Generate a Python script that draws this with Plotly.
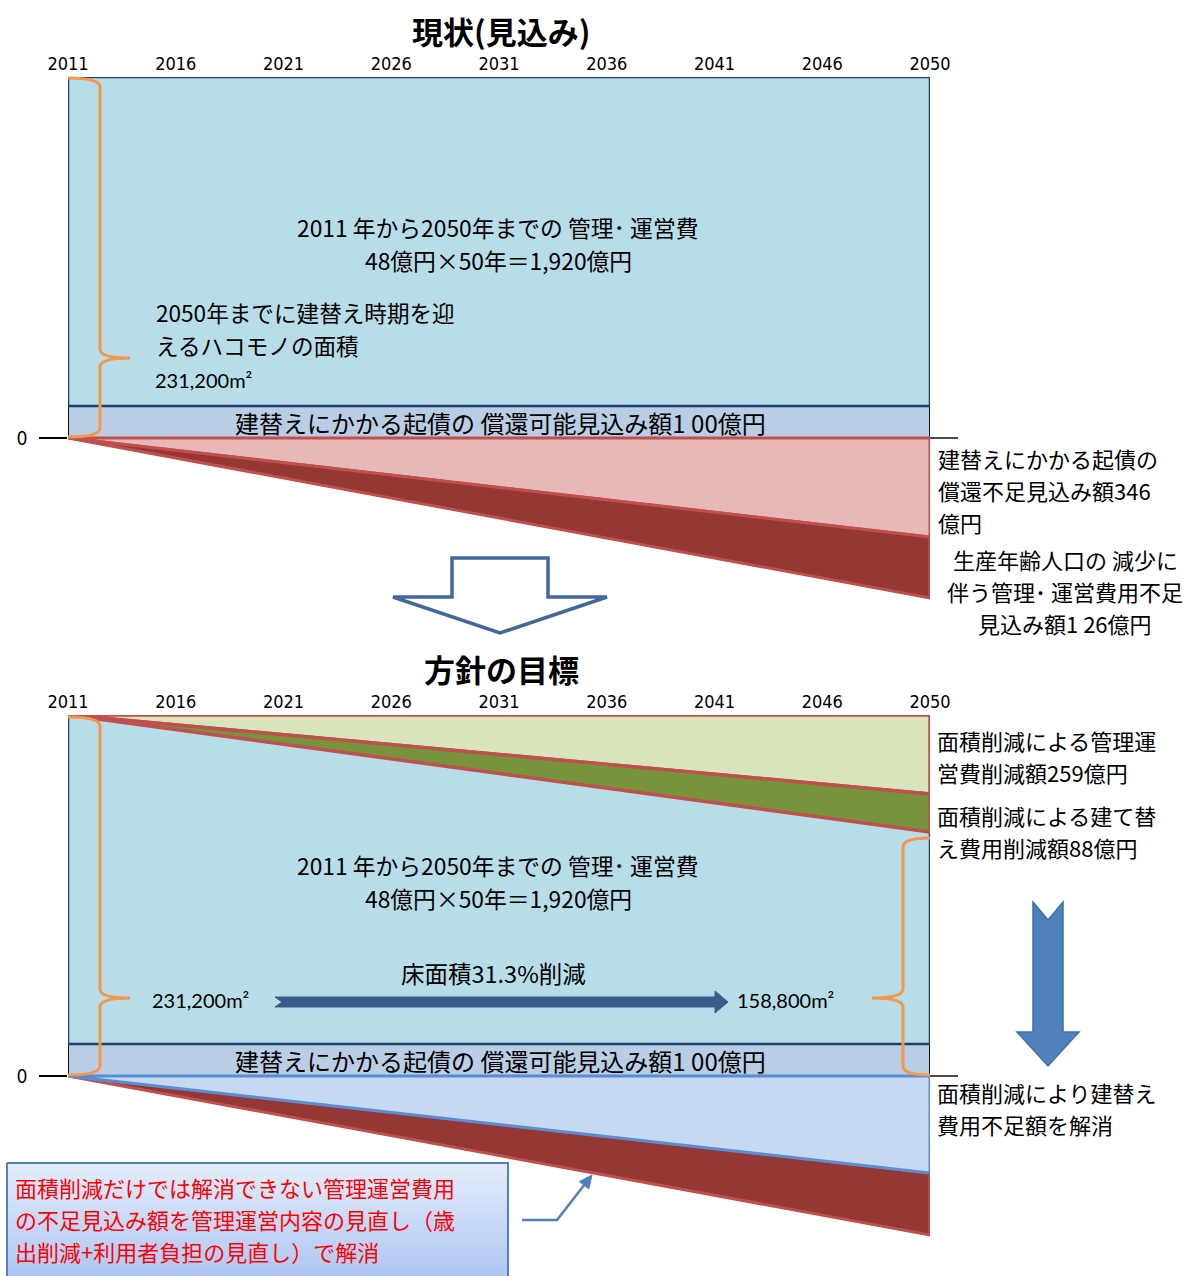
import plotly.graph_objects as go

W, H = 1197, 1276
JP = "Noto Sans CJK JP"
NARROW = "Liberation Sans Narrow, DejaVu Sans Condensed, Arial Narrow, sans-serif"

# ---------------- data ----------------
period = [2011, 2051]  # start of 2011 .. end of 2050
tick_years = [2011, 2016, 2021, 2026, 2031, 2036, 2041, 2046, 2051]
tick_labels = ["2011", "2016", "2021", "2026", "2031", "2036", "2041", "2046", "2050"]

# schematic levels (diagram units, as drawn)
ops_level = 361   # 管理・運営費 1,920億円 (band top)
bond_level = 32   # 起債の償還可能見込み額 100億円
# 現状(見込み) at 2050
cur_bond_short = -99    # 償還不足見込み額 346億円
cur_ops_short = -160    # 管理・運営費用不足見込み額 126億円
# 方針の目標 at 2050
tgt_ops_cut = 282       # 面積削減による管理運営費削減額 259億円 (lower edge)
tgt_rebuild_cut = 244   # 面積削減による建て替え費用削減額 88億円 (lower edge)
tgt_bond_ok = -97       # 面積削減により建替え費用不足額を解消
tgt_ops_short = -159    # 管理運営費用の不足見込み額

fig = go.Figure()


def poly(xs, ys, fill, line, lw, xa, ya):
    fig.add_trace(go.Scatter(x=xs, y=ys, mode="lines", fill="toself",
                             fillcolor=fill, line=dict(color=line, width=lw),
                             xaxis=xa, yaxis=ya, hoverinfo="skip", showlegend=False))


x0, x1 = period
rect_x = [x0, x1, x1, x0, x0]
tri_x = [x0, x1, x1, x0]

for xa, ya in [("x", "y"), ("x2", "y2")]:
    poly(rect_x, [0, 0, bond_level, bond_level, 0], "#B9CDE5", "#111111", 2, xa, ya)
    poly(rect_x, [bond_level, bond_level, ops_level, ops_level, bond_level],
         "#B7DDE8", "#1F3F6E", 2.5, xa, ya)

# 現状
poly(tri_x, [0, 0, cur_bond_short, 0], "#E6B9B8", "#C0504D", 3, "x", "y")
poly(tri_x, [0, cur_bond_short, cur_ops_short, 0], "#953735", "#C0504D", 3, "x", "y")
# 方針の目標
poly(tri_x, [ops_level, ops_level, tgt_ops_cut, ops_level], "#D7E4BD", "#C0504D", 3.5, "x2", "y2")
poly(tri_x, [ops_level, tgt_ops_cut, tgt_rebuild_cut, ops_level], "#77933C", "#C0504D", 3.5, "x2", "y2")
poly(tri_x, [0, tgt_bond_ok, tgt_ops_short, 0], "#953735", "#C0504D", 3, "x2", "y2")
poly(tri_x, [0, 0, tgt_bond_ok, 0], "#C6D9F1", "#558ED5", 3, "x2", "y2")

# gradient note box (pixel overlay axis)
fig.add_trace(go.Scatter(
    x=[7, 508, 508, 7, 7], y=[1163, 1163, 1295, 1295, 1163], mode="lines",
    fill="toself",
    fillgradient=dict(type="vertical", start=1163, stop=1276,
                      colorscale=[[0, "#E4EDFB"], [1, "#AEC7F2"]]),
    line=dict(color="#4F81BD", width=2), xaxis="x3", yaxis="y3",
    hoverinfo="skip", showlegend=False))


def py2p(py):
    return 1 - py / H


ax_common = dict(range=[x0, x1], side="top", tickvals=tick_years, ticktext=tick_labels,
                 tickfont=dict(family=NARROW, size=18, color="black"),
                 showgrid=False, zeroline=False, showline=False, ticks="",
                 ticklabelstandoff=2, automargin=False, fixedrange=True)
ay_common = dict(range=[-172, 361], tickvals=[0], ticktext=["0"],
                 tickfont=dict(family=JP, size=19, color="black"),
                 ticks="outside", ticklen=28, tickwidth=1.5, tickcolor="black",
                 showgrid=False, zeroline=False, showline=False, ticklabelstandoff=8,
                 automargin=False, fixedrange=True)

fig.update_layout(
    width=W, height=H, margin=dict(l=0, r=0, t=0, b=0, autoexpand=False),
    paper_bgcolor="white", plot_bgcolor="rgba(0,0,0,0)",
    xaxis=dict(domain=[68 / W, 930 / W], anchor="y", **ax_common),
    yaxis=dict(domain=[py2p(610), py2p(77)], anchor="x", **ay_common),
    xaxis2=dict(domain=[68 / W, 930 / W], anchor="y2", **ax_common),
    yaxis2=dict(domain=[py2p(1248), py2p(715)], anchor="x2", **ay_common),
    xaxis3=dict(domain=[0, 1], range=[0, W], visible=False, anchor="y3",
                fixedrange=True, automargin=False),
    yaxis3=dict(domain=[0, 1], range=[H, 0], visible=False, anchor="x3",
                fixedrange=True, automargin=False),
)

shapes = []


def path(d, fill=None, line="#000", lw=2):
    s = dict(type="path", path=d, xref="x3", yref="y3", layer="above",
             line=dict(color=line, width=lw))
    if fill:
        s["fillcolor"] = fill
    shapes.append(s)


def brace(x_open, x_spine, x_tip, y_top, y_bot, y_mid, r=9):
    d = (f"M {x_open},{y_top} Q {x_spine},{y_top} {x_spine},{y_top + r} "
         f"L {x_spine},{y_mid - r} Q {x_spine},{y_mid} {x_tip},{y_mid} "
         f"Q {x_spine},{y_mid} {x_spine},{y_mid + r} "
         f"L {x_spine},{y_bot - r} Q {x_spine},{y_bot} {x_open},{y_bot}")
    path(d, line="#F79646", lw=3)


brace(68, 100, 130, 78, 437, 358)
brace(68, 100, 130, 717, 1075, 998)
brace(930, 903, 872, 838, 1075, 998)

# hollow down arrow between panels
path("M 452,558 L 548,558 L 548,597 L 607,597 L 500,633 L 393,597 L 452,597 Z",
     fill="white", line="#41689C", lw=3.5)
# solid blue down arrow on the right
path("M 1033,902 L 1048,920 L 1063,902 L 1063,1032 L 1079,1032 L 1048,1066 "
     "L 1017,1032 L 1033,1032 Z", fill="#4F81BD", line="#3F6FA8", lw=1.5)
# horizontal floor-area arrow
path("M 275,997 L 715,997 L 715,991 L 728,1002 L 715,1013 L 715,1007 L 275,1007 L 282,1002 Z",
     fill="#385D8A", line="#385D8A", lw=1)
# zero stubs on the right
path("M 930,438 L 958,438", line="#111111", lw=1.5)
path("M 930,1076 L 958,1076", line="#111111", lw=1.5)
# connector from note box
path("M 522,1220 L 557,1220 L 585,1184", line="#4F81BD", lw=2.5)
tx, ty = 592, 1175
ux, uy = 0.61, -0.79
bx, by = tx - 13 * ux, ty - 13 * uy
px_, py_ = 0.79, 0.61
path(f"M {tx},{ty} L {bx + 6 * px_},{by + 6 * py_} L {bx - 6 * px_},{by - 6 * py_} Z",
     fill="#4F81BD", line="#4F81BD", lw=1)

fig.update_layout(shapes=shapes)

anns = []


def ann(text, x, y, size=21, xanchor="left", color="black", family=JP):
    anns.append(dict(text=text, x=x, y=y, xref="x3", yref="y3",
                     xanchor=xanchor, yanchor="middle", showarrow=False,
                     font=dict(family=family, size=size, color=color)))


def block(lines, x, yc, size, step, xanchor="left", color="black"):
    n = len(lines)
    for i, t in enumerate(lines):
        ann(t, x, yc + (i - (n - 1) / 2) * step, size, xanchor, color)


ann("<b>現状(見込み)</b>", 501, 30, 31, "center")
ann("<b>方針の目標</b>", 501, 668, 31, "center")

for yoff in (0, 638):
    block(["2011 年から2050年までの 管理･ 運営費", "48億円×50年＝1,920億円"],
          498, 244 + yoff, 22.8, 33, "center")
    ann("建替えにかかる起債の 償還可能見込み額1 00億円", 500, 422 + yoff, 24, "center")

block(["2050年までに建替え時期を迎", "えるハコモノの面積"], 154, 329, 22.6, 33)
ann("231,200m²", 153, 380, 20, family="Lato")

block(["建替えにかかる起債の", "償還不足見込み額346", "億円"], 936, 490, 22, 32)
block(["生産年齢人口の 減少に", "伴う管理･ 運営費用不足", "見込み額1 26億円"],
      1065, 591, 22, 32, "center")

ann("床面積31.3%削減", 493, 973, 23.5, "center")
ann("231,200m²", 150, 1000, 20, family="Lato")
ann("158,800m²", 735, 1000, 20, family="Lato")

block(["面積削減による管理運", "営費削減額259億円"], 935, 756, 22, 32)
block(["面積削減による建て替", "え費用削減額88億円"], 935, 831, 22, 32)
block(["面積削減により建替え", "費用不足額を解消"], 935, 1107.5, 22, 32)

block(["面積削減だけでは解消できない管理運営費用",
       "の不足見込み額を管理運営内容の見直し（歳",
       "出削減+利用者負担の見直し）で解消"], 13, 1219, 22, 32, color="#FF0000")

fig.update_layout(annotations=anns)

fig.write_html("out.html")
